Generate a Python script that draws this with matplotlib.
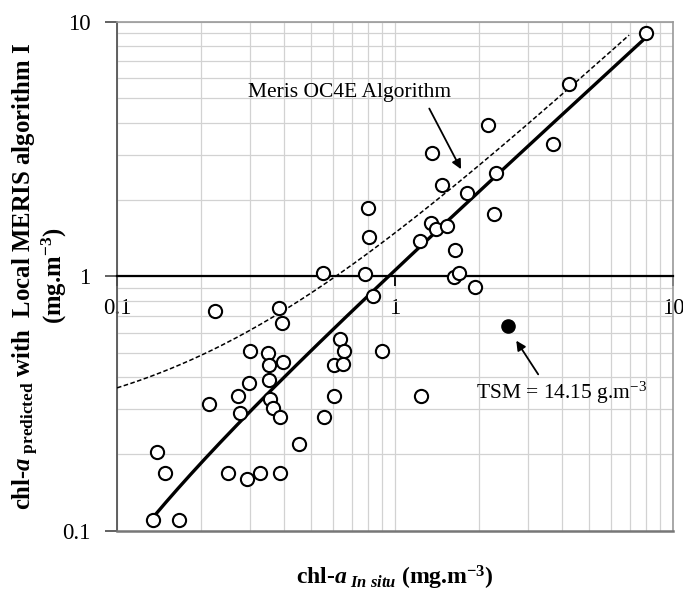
import numpy as np
import matplotlib.pyplot as plt
from matplotlib.ticker import FixedLocator, FixedFormatter, NullFormatter, LogLocator

plt.rcParams['font.family'] = 'Liberation Serif'
plt.rcParams['mathtext.fontset'] = 'custom'
plt.rcParams['mathtext.rm'] = 'Liberation Serif:bold'
plt.rcParams['mathtext.it'] = 'Liberation Serif:italic:bold'
plt.rcParams['mathtext.bf'] = 'Liberation Serif:bold'
plt.rcParams['mathtext.sf'] = 'Liberation Serif'

# chl-a in situ vs predicted (mg.m-3)
chl_insitu = [8.00, 4.23, 2.16, 3.70, 1.36, 2.30, 1.48, 1.82, 0.80, 2.27,
              1.35, 1.40, 1.54, 0.806, 1.225, 1.65, 0.553, 0.777, 1.626, 1.70,
              1.945, 0.835, 0.225, 0.3825, 0.393, 0.301, 0.348, 0.353, 0.395, 0.634,
              0.657, 0.602, 0.652, 0.299, 0.353, 0.272, 0.354, 0.215, 0.363, 0.278,
              0.387, 0.602, 0.557, 0.453, 0.139, 0.149, 0.250, 0.294, 0.326, 0.385,
              0.135, 0.167, 0.898, 1.237]
chl_pred = [9.03, 5.69, 3.93, 3.31, 3.05, 2.54, 2.28, 2.12, 1.85, 1.76,
            1.62, 1.53, 1.575, 1.43, 1.375, 1.27, 1.025, 1.02, 0.993, 1.025,
            0.909, 0.838, 0.727, 0.752, 0.652, 0.508, 0.5005, 0.448, 0.459, 0.565,
            0.508, 0.448, 0.451, 0.382, 0.39, 0.337, 0.329, 0.314, 0.303, 0.289,
            0.2805, 0.337, 0.28, 0.219, 0.203, 0.169, 0.169, 0.16, 0.169, 0.169,
            0.110, 0.110, 0.508, 0.337]

# high TSM outlier
tsm_x = [2.55]
tsm_y = [0.639]

# local algorithm fit (linear) and MERIS OC4E reference curve
fit_slope, fit_intercept = 1.089, -0.034
fit_range = (0.1351, 7.93)
oc4e_slope, oc4e_intercept = 1.24, 0.24
oc4e_range = (0.1, 6.95)

fig = plt.figure(figsize=(6.83, 5.94), dpi=100)
ax = fig.add_axes([0.1713, 0.1066, 0.8141, 0.8569])
ax.set_xscale('log')
ax.set_yscale('log')
ax.set_xlim(0.1, 10)
ax.set_ylim(0.1, 10)

ax.grid(True, which='both', color='#d2d2d2', linewidth=0.9, zorder=0)
ax.set_axisbelow(True)

xf = np.logspace(np.log10(fit_range[0]), np.log10(fit_range[1]), 200)
ax.plot(xf, fit_slope * xf + fit_intercept, '-', color='black', linewidth=2.4, zorder=3)

xo = np.logspace(np.log10(oc4e_range[0]), np.log10(oc4e_range[1]), 200)
ax.plot(xo, oc4e_slope * xo + oc4e_intercept, '--', color='black', linewidth=1.1,
        dashes=(3, 1.6), zorder=3)

ax.plot(chl_insitu, chl_pred, 'o', markersize=9.5, markerfacecolor='white',
        markeredgecolor='black', markeredgewidth=1.5, linestyle='none', zorder=4)
ax.plot(tsm_x, tsm_y, 'o', markersize=9.5, color='black', linestyle='none', zorder=4)

# axes styling: x axis crosses at y = 1
ax.spines['bottom'].set_position(('data', 1))
ax.spines['bottom'].set_color('black')
ax.spines['bottom'].set_linewidth(1.6)
ax.spines['left'].set_color('#555555')
ax.spines['left'].set_linewidth(1.3)
for s in ['top', 'right']:
    ax.spines[s].set_color('#999999')
    ax.spines[s].set_linewidth(1.2)
ax.axhline(0.1, color='#777777', linewidth=1.8, clip_on=False, zorder=5)

major = [0.1, 1, 10]
labels = ['0.1', '1', '10']
for axis in (ax.xaxis, ax.yaxis):
    axis.set_major_locator(FixedLocator(major))
    axis.set_major_formatter(FixedFormatter(labels))
    axis.set_minor_locator(LogLocator(base=10, subs=np.arange(2, 10)))
    axis.set_minor_formatter(NullFormatter())
ax.tick_params(which='minor', length=0)
ax.tick_params(axis='x', which='major', direction='out', length=7, width=1.3,
               labelsize=16.5, pad=9)
ax.tick_params(axis='y', which='major', direction='out', length=9, width=1.3,
               labelsize=16.5, pad=10, color='#555555')

ax.text(0.296, 5.29, 'Meris OC4E Algorithm', fontsize=15.5, ha='left', va='center')
ax.annotate('', xy=(1.746, 2.574), xytext=(1.314, 4.66),
            arrowprops=dict(arrowstyle='-|>', color='black', lw=1.3, mutation_scale=14))

ax.text(1.956, 0.3476, r'TSM = 14.15 g.m$^{\mathsf{-3}}$', fontsize=15.5, ha='left', va='center')
ax.annotate('', xy=(2.696, 0.570), xytext=(3.315, 0.4028),
            arrowprops=dict(arrowstyle='-|>', color='black', lw=1.3, mutation_scale=14))

fig.text(0.578, 0.027, r'chl-$\mathit{a}_{\ \mathit{In\ situ}}$ (mg.m$^{-3}$)',
         fontsize=17, fontweight='bold', ha='center', va='center')
fig.text(0.038, 0.535, r'chl-$\mathit{a}_{\ \mathrm{predicted}}$ with  Local MERIS algorithm I',
         fontsize=17.8, fontweight='bold', ha='center', va='center', rotation=90)
fig.text(0.080, 0.535, r'(mg.m$^{-3}$)',
         fontsize=17.8, fontweight='bold', ha='center', va='center', rotation=90)

fig.savefig('out.png', dpi=100)
